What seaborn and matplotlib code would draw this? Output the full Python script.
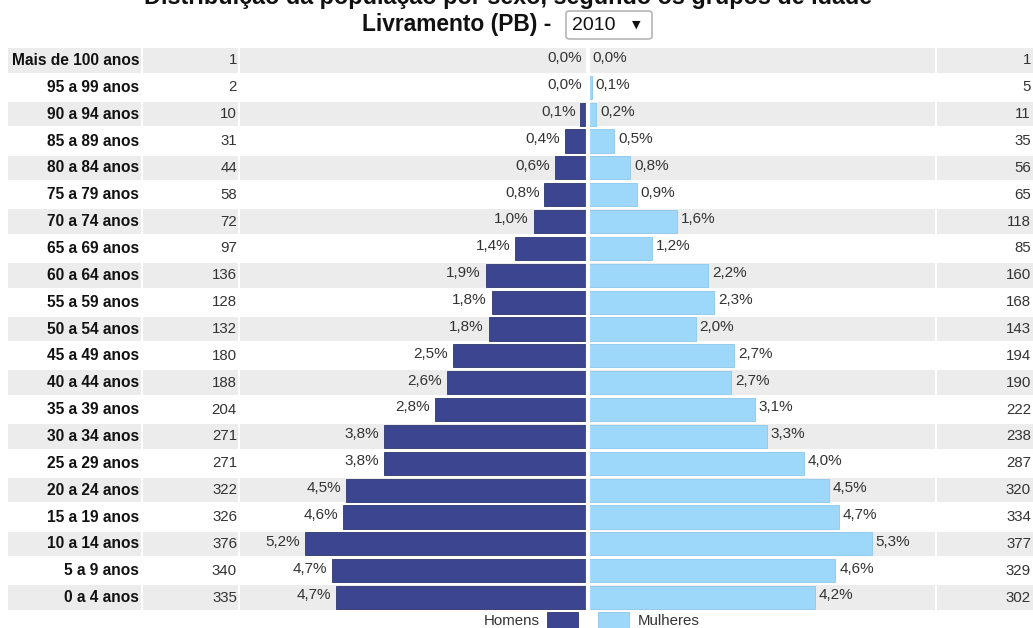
import matplotlib
matplotlib.use("Agg")
import matplotlib.pyplot as plt
import matplotlib.transforms as mtransforms
from matplotlib.patches import Rectangle, FancyBboxPatch
import seaborn as sns
import pandas as pd

# ---------------- data ----------------
age_groups = ["Mais de 100 anos", "95 a 99 anos", "90 a 94 anos", "85 a 89 anos",
              "80 a 84 anos", "75 a 79 anos", "70 a 74 anos", "65 a 69 anos",
              "60 a 64 anos", "55 a 59 anos", "50 a 54 anos", "45 a 49 anos",
              "40 a 44 anos", "35 a 39 anos", "30 a 34 anos", "25 a 29 anos",
              "20 a 24 anos", "15 a 19 anos", "10 a 14 anos", "5 a 9 anos", "0 a 4 anos"]
homens = [1, 2, 10, 31, 44, 58, 72, 97, 136, 128, 132, 180, 188, 204, 271, 271,
          322, 326, 376, 340, 335]
homens_pct = [0.0, 0.0, 0.1, 0.4, 0.6, 0.8, 1.0, 1.4, 1.9, 1.8, 1.8, 2.5, 2.6, 2.8,
              3.8, 3.8, 4.5, 4.6, 5.2, 4.7, 4.7]
mulheres = [1, 5, 11, 35, 56, 65, 118, 85, 160, 168, 143, 194, 190, 222, 238, 287,
            320, 334, 377, 329, 302]
mulheres_pct = [0.0, 0.1, 0.2, 0.5, 0.8, 0.9, 1.6, 1.2, 2.2, 2.3, 2.0, 2.7, 2.7, 3.1,
                3.3, 4.0, 4.5, 4.7, 5.3, 4.6, 4.2]
title_line1 = "Distribuição da população por sexo, segundo os grupos de idade"
title_place = "Livramento (PB) - "
title_year = "2010"
legend_labels = ["Homens", "Mulheres"]

# ---------------- style ----------------
sns.set_theme(style="white")
plt.rcParams["font.family"] = ["Liberation Sans", "DejaVu Sans"]

C_MEN = "#3b4590"
C_WOMEN = "#9dd8fa"
C_STRIPE = "#ececec"
C_TEXT = "#333333"

W, H = 1033, 628
fig = plt.figure(figsize=(W / 100, H / 100), dpi=100)
fig.patch.set_facecolor("white")

top_px, bot_px = 47, 611
ax = fig.add_axes([0, 1 - bot_px / H, 1, (bot_px - top_px) / H])
ax.set_facecolor("white")

center_px = 588
scale = 0.752  # px per person
ax.set_xlim(-center_px / scale, (W - center_px) / scale)

n = len(age_groups)
# stripes (table cells)
cells = [(8, 141), (143, 238), (240, 935), (937, 1033)]
for i in range(0, n, 2):
    for a, b in cells:
        ax.axhspan(i - 0.46, i + 0.46, xmin=a / W, xmax=b / W, color=C_STRIPE,
                   lw=0, zorder=0)

df = pd.DataFrame({"idade": age_groups,
                   "homens": [-v for v in homens],
                   "mulheres": mulheres})
sns.barplot(data=df, y="idade", x="homens", order=age_groups, color=C_MEN,
            saturation=1, width=0.86, orient="h", ax=ax, zorder=2,
            edgecolor="#2e376f", linewidth=0.6)
sns.barplot(data=df, y="idade", x="mulheres", order=age_groups, color=C_WOMEN,
            saturation=1, width=0.86, orient="h", ax=ax, zorder=2,
            edgecolor="#8cc7ea", linewidth=0.6)
ax.axvline(0, color="white", lw=3.0, zorder=3)
ax.set_ylim(n - 0.5, -0.5)
ax.set_xlabel("")
ax.set_ylabel("")
ax.set_xticks([])
ax.set_yticks([])
for s in ax.spines.values():
    s.set_visible(False)

blend = mtransforms.blended_transform_factory(ax.transAxes, ax.transData)
fs = 10.8
for i, lab in enumerate(age_groups):
    ax.text(139 / W, i, lab, transform=blend, ha="right", va="center",
            fontsize=11.2, fontweight="bold", color="#111111")
    ax.text(237 / W, i, str(homens[i]), transform=blend, ha="right", va="center",
            fontsize=fs, color=C_TEXT)
    ax.text(1031 / W, i, str(mulheres[i]), transform=blend, ha="right", va="center",
            fontsize=fs, color=C_TEXT)
    ax.annotate(f"{homens_pct[i]:.1f}%".replace(".", ","), xy=(-homens[i], i),
                xytext=(-3.5, 1.5), textcoords="offset points", ha="right",
                va="center", fontsize=11, color=C_TEXT, zorder=4)
    ax.annotate(f"{mulheres_pct[i]:.1f}%".replace(".", ","), xy=(mulheres[i], i),
                xytext=(2.8, 1.5), textcoords="offset points", ha="left",
                va="center", fontsize=11, color=C_TEXT, zorder=4)

# ---------------- title ----------------
fig.text(508 / W, 1 + 2 / H, title_line1, ha="center", va="center",
         fontsize=16.8, fontweight="bold", color="#111111")
fig.text(558 / W, 1 - 24 / H, title_place, ha="right", va="center",
         fontsize=16.4, fontweight="bold", color="#111111")
box = FancyBboxPatch((566 / W, 1 - 39 / H), 86 / W, 28 / H,
                     boxstyle="round,pad=0,rounding_size=0.004",
                     transform=fig.transFigure, facecolor="white",
                     edgecolor="#b5b5b5", lw=1.2)
fig.patches.append(box)
fig.text(572 / W, 1 - 25 / H, title_year, ha="left", va="center",
         fontsize=14, color="#111111")
fig.text(636 / W, 1 - 25 / H, "▼", ha="center", va="center", fontsize=8,
         color="#111111", family=["DejaVu Sans"])

# ---------------- legend ----------------
ly = 1 - 621 / H
fig.text(540 / W, ly, legend_labels[0], ha="right", va="center", fontsize=fs,
         color=C_TEXT)
fig.patches.append(Rectangle((547 / W, 0), 31 / W, (628 - 612) / H,
                             transform=fig.transFigure, facecolor=C_MEN,
                             edgecolor="#2e376f", lw=0.6))
fig.patches.append(Rectangle((598 / W, 0), 31 / W, (628 - 612) / H,
                             transform=fig.transFigure, facecolor=C_WOMEN,
                             edgecolor="#8cc7ea", lw=0.6))
fig.text(638 / W, ly, legend_labels[1], ha="left", va="center", fontsize=fs,
         color=C_TEXT)

fig.savefig("out.png", dpi=100, facecolor="white")
